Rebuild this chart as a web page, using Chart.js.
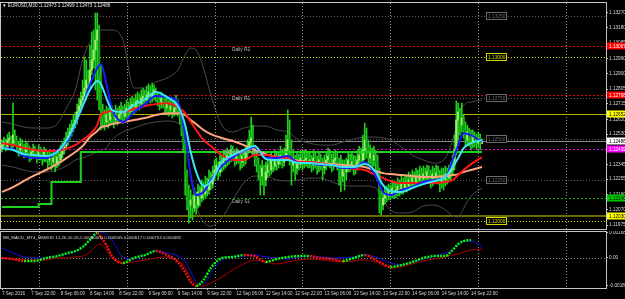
<!DOCTYPE html>
<html>
<head>
<meta charset="utf-8">
<script src="https://cdn.jsdelivr.net/npm/chart.js@4.4.1/dist/chart.umd.min.js"></script>
<style>
  html, body { margin: 0; padding: 0; background: #000; }
  #wrap { position: relative; width: 625px; height: 299px; overflow: hidden; background: #000; }
  canvas { position: absolute; left: 0; }
</style>
</head>
<body>
<div id="wrap">
  <canvas id="priceChart" width="625" height="231" style="top:0"></canvas>
  <canvas id="macdChart" width="625" height="68" style="top:231px"></canvas>
</div>
<script>
Chart.defaults.font.family = "'Liberation Sans', Arial, sans-serif";
Chart.defaults.font.size = 4.7;
Chart.defaults.color = '#d8d8d8';
Chart.defaults.animation = false;

// ---- data ----
const symbol = 'EURUSD,M30';
const tickBars = [0, 16, 32, 48, 64, 80, 96, 112, 128, 144, 160, 176, 192, 208, 224, 240, 256];
const tickLabels = ['7 Sep 2016', '7 Sep 22:00', '8 Sep 06:00', '8 Sep 14:00', '8 Sep 22:00', '9 Sep 06:00',
  '9 Sep 14:00', '9 Sep 22:00', '12 Sep 06:00', '12 Sep 14:00', '12 Sep 22:00', '13 Sep 06:00',
  '13 Sep 14:00', '13 Sep 22:00', '14 Sep 06:00', '14 Sep 14:00', '14 Sep 22:00'];
const gridBars = [20, 68, 116, 164, 212, 260, 308];
const priceTicks = [1.13270, 1.13180, 1.13085, 1.12990, 1.12900, 1.12805, 1.12715, 1.12620, 1.12530,
  1.12435, 1.12345, 1.12255, 1.12160, 1.12070, 1.11975];

const firstOpen = 1.12445;
const closes = [
  1.12463,1.12482,1.12451,1.12494,1.12506,1.12475,1.12524,1.12494,1.12457,1.12433,
  1.12469,1.12445,1.12421,1.12451,1.12433,1.12402,1.12421,1.12439,1.12414,1.12396,
  1.12433,1.12408,1.12384,1.12421,1.12396,1.12372,1.12402,1.12360,1.12384,1.12353,
  1.12390,1.12372,1.12408,1.12433,1.12457,1.12494,1.12518,1.12543,1.12567,1.12591,
  1.12616,1.12665,1.12701,1.12738,1.12762,1.12811,1.12860,1.12836,1.12921,1.12982,
  1.13043,1.13104,1.13165,1.12891,1.12677,1.12628,1.12604,1.12646,1.12616,1.12665,
  1.12640,1.12616,1.12658,1.12628,1.12652,1.12677,1.12640,1.12665,1.12689,1.12665,
  1.12701,1.12713,1.12689,1.12726,1.12738,1.12713,1.12750,1.12762,1.12738,1.12768,
  1.12787,1.12756,1.12774,1.12799,1.12762,1.12738,1.12713,1.12750,1.12726,1.12689,
  1.12713,1.12677,1.12701,1.12665,1.12689,1.12713,1.12677,1.12628,1.12555,1.12463,
  1.12280,1.12158,1.12097,1.12128,1.12079,1.12152,1.12097,1.12177,1.12140,1.12201,
  1.12164,1.12213,1.12189,1.12250,1.12225,1.12280,1.12311,1.12341,1.12299,1.12360,
  1.12335,1.12384,1.12360,1.12402,1.12384,1.12433,1.12396,1.12372,1.12408,1.12384,
  1.12360,1.12396,1.12372,1.12421,1.12445,1.12482,1.12506,1.12433,1.12384,1.12347,
  1.12311,1.12274,1.12323,1.12250,1.12299,1.12341,1.12311,1.12372,1.12335,1.12384,
  1.12347,1.12372,1.12402,1.12360,1.12396,1.12433,1.12494,1.12433,1.12341,1.12384,
  1.12323,1.12372,1.12347,1.12384,1.12360,1.12372,1.12384,1.12360,1.12372,1.12341,
  1.12384,1.12360,1.12335,1.12372,1.12353,1.12323,1.12347,1.12372,1.12396,1.12360,
  1.12341,1.12372,1.12384,1.12347,1.12311,1.12274,1.12323,1.12299,1.12341,1.12372,
  1.12335,1.12360,1.12323,1.12341,1.12372,1.12402,1.12372,1.12433,1.12494,1.12445,
  1.12384,1.12421,1.12372,1.12402,1.12360,1.12311,1.12158,1.12097,1.12140,1.12177,
  1.12152,1.12189,1.12164,1.12201,1.12170,1.12189,1.12213,1.12189,1.12225,1.12201,
  1.12238,1.12213,1.12250,1.12225,1.12262,1.12238,1.12274,1.12250,1.12280,1.12256,
  1.12286,1.12262,1.12299,1.12274,1.12250,1.12286,1.12262,1.12292,1.12268,1.12238,
  1.12274,1.12250,1.12286,1.12262,1.12299,1.12311,1.12341,1.12433,1.12616,1.12665,
  1.12585,1.12628,1.12555,1.12494,1.12543,1.12506,1.12482,1.12518,1.12494,1.12475,
  1.12506,1.12473,1.12486];
const highs = [
  1.12494,1.12512,1.12500,1.12530,1.12543,1.12518,1.12719,1.12555,1.12518,1.12482,
  1.12506,1.12494,1.12469,1.12488,1.12475,1.12457,1.12445,1.12469,1.12457,1.12433,
  1.12463,1.12451,1.12433,1.12451,1.12439,1.12421,1.12433,1.12414,1.12421,1.12402,
  1.12433,1.12421,1.12463,1.12482,1.12506,1.12543,1.12567,1.12591,1.12616,1.12646,
  1.12665,1.12713,1.12750,1.12787,1.12860,1.13000,1.12982,1.12921,1.13074,1.13153,
  1.13165,1.13269,1.13269,1.13196,1.12952,1.12713,1.12677,1.12701,1.12689,1.12713,
  1.12701,1.12677,1.12707,1.12689,1.12701,1.12726,1.12701,1.12713,1.12738,1.12726,
  1.12750,1.12762,1.12750,1.12774,1.12787,1.12774,1.12799,1.12811,1.12799,1.12823,
  1.12836,1.12823,1.12842,1.12830,1.12811,1.12787,1.12768,1.12787,1.12774,1.12750,
  1.12762,1.12738,1.12750,1.12726,1.12738,1.12768,1.12738,1.12701,1.12652,1.12585,
  1.12494,1.12311,1.12219,1.12189,1.12158,1.12201,1.12177,1.12225,1.12213,1.12250,
  1.12238,1.12274,1.12262,1.12311,1.12299,1.12335,1.12372,1.12384,1.12360,1.12402,
  1.12396,1.12433,1.12421,1.12445,1.12433,1.12463,1.12457,1.12433,1.12445,1.12433,
  1.12421,1.12433,1.12433,1.12457,1.12494,1.12555,1.12634,1.12585,1.12463,1.12421,
  1.12384,1.12341,1.12372,1.12341,1.12360,1.12384,1.12372,1.12421,1.12396,1.12433,
  1.12421,1.12421,1.12457,1.12433,1.12445,1.12524,1.12677,1.12616,1.12494,1.12433,
  1.12402,1.12421,1.12408,1.12433,1.12421,1.12433,1.12433,1.12421,1.12421,1.12402,
  1.12433,1.12421,1.12396,1.12421,1.12408,1.12384,1.12402,1.12421,1.12445,1.12433,
  1.12408,1.12421,1.12433,1.12421,1.12384,1.12402,1.12372,1.12372,1.12384,1.12421,
  1.12408,1.12421,1.12402,1.12396,1.12433,1.12457,1.12445,1.12524,1.12597,1.12567,
  1.12494,1.12463,1.12445,1.12457,1.12433,1.12402,1.12323,1.12189,1.12177,1.12213,
  1.12213,1.12225,1.12219,1.12250,1.12238,1.12238,1.12262,1.12250,1.12274,1.12262,
  1.12280,1.12274,1.12299,1.12286,1.12311,1.12299,1.12323,1.12311,1.12335,1.12323,
  1.12335,1.12323,1.12341,1.12335,1.12311,1.12335,1.12323,1.12341,1.12335,1.12311,
  1.12323,1.12323,1.12335,1.12323,1.12341,1.12360,1.12402,1.12524,1.12732,1.12719,
  1.12689,1.12719,1.12646,1.12604,1.12585,1.12567,1.12555,1.12555,1.12543,1.12530,
  1.12543,1.12530,1.12499];
const lows = [
  1.12421,1.12439,1.12427,1.12433,1.12469,1.12445,1.12445,1.12463,1.12421,1.12396,
  1.12402,1.12414,1.12384,1.12396,1.12408,1.12360,1.12372,1.12390,1.12384,1.12353,
  1.12372,1.12372,1.12341,1.12360,1.12360,1.12323,1.12341,1.12311,1.12335,1.12299,
  1.12323,1.12335,1.12353,1.12384,1.12408,1.12433,1.12463,1.12494,1.12518,1.12543,
  1.12567,1.12591,1.12640,1.12665,1.12701,1.12738,1.12738,1.12768,1.12811,1.12891,
  1.12933,1.12799,1.12738,1.12677,1.12555,1.12567,1.12555,1.12579,1.12567,1.12585,
  1.12591,1.12567,1.12591,1.12585,1.12604,1.12616,1.12597,1.12616,1.12628,1.12628,
  1.12640,1.12665,1.12652,1.12665,1.12689,1.12677,1.12689,1.12713,1.12701,1.12713,
  1.12738,1.12719,1.12726,1.12738,1.12726,1.12701,1.12677,1.12689,1.12689,1.12652,
  1.12665,1.12640,1.12652,1.12628,1.12640,1.12665,1.12640,1.12591,1.12518,1.12421,
  1.12158,1.12067,1.11987,1.12018,1.12006,1.12055,1.12042,1.12079,1.12091,1.12116,
  1.12128,1.12140,1.12152,1.12164,1.12189,1.12201,1.12250,1.12280,1.12250,1.12274,
  1.12299,1.12311,1.12323,1.12335,1.12347,1.12360,1.12372,1.12335,1.12347,1.12353,
  1.12311,1.12323,1.12335,1.12347,1.12384,1.12421,1.12445,1.12396,1.12335,1.12299,
  1.12250,1.12158,1.12219,1.12158,1.12213,1.12262,1.12274,1.12286,1.12299,1.12311,
  1.12311,1.12323,1.12341,1.12323,1.12335,1.12372,1.12384,1.12341,1.12219,1.12299,
  1.12250,1.12286,1.12311,1.12323,1.12311,1.12323,1.12335,1.12323,1.12323,1.12299,
  1.12311,1.12323,1.12286,1.12299,1.12311,1.12250,1.12286,1.12311,1.12335,1.12323,
  1.12299,1.12311,1.12335,1.12311,1.12219,1.12177,1.12238,1.12189,1.12250,1.12299,
  1.12299,1.12311,1.12280,1.12286,1.12311,1.12341,1.12335,1.12341,1.12372,1.12384,
  1.12341,1.12347,1.12323,1.12335,1.12311,1.12250,1.12048,1.12036,1.12067,1.12103,
  1.12116,1.12128,1.12128,1.12140,1.12140,1.12140,1.12152,1.12152,1.12164,1.12164,
  1.12177,1.12177,1.12189,1.12189,1.12201,1.12201,1.12213,1.12213,1.12225,1.12219,
  1.12231,1.12225,1.12238,1.12238,1.12201,1.12213,1.12225,1.12238,1.12225,1.12177,
  1.12201,1.12189,1.12213,1.12225,1.12238,1.12250,1.12274,1.12311,1.12402,1.12494,
  1.12524,1.12543,1.12506,1.12457,1.12463,1.12457,1.12433,1.12445,1.12451,1.12433,
  1.12445,1.12433,1.12473];

// indicator readings, taken at these bars
const sampleBars = [0,6,12,18,24,30,36,40,44,48,52,54,57,60,66,72,78,84,90,96,100,103,106,110,114,
  120,126,132,138,144,150,156,162,168,174,180,186,192,198,204,208,212,218,224,230,236,242,246,249,252,256,262];
const blueMA = [1.12445,1.12439,1.12396,1.12384,1.12384,1.12421,1.12494,1.12591,1.12701,1.12830,
  1.12933,1.12958,1.12836,1.12689,1.12604,1.12665,1.12713,1.12762,1.12756,1.12726,
  1.12524,1.12280,1.12158,1.12177,1.12250,1.12335,1.12390,1.12427,1.12451,1.12384,
  1.12384,1.12396,1.12353,1.12353,1.12341,1.12341,1.12323,1.12323,1.12360,1.12274,
  1.12177,1.12158,1.12189,1.12207,1.12238,1.12250,1.12268,1.12372,1.12463,1.12536,1.12524,1.12482];
const cyanMA = [1.12445,1.12433,1.12408,1.12402,1.12396,1.12421,1.12506,1.12597,1.12701,1.12799,
  1.12854,1.12836,1.12750,1.12677,1.12665,1.12707,1.12744,1.12787,1.12756,1.12701,
  1.12585,1.12421,1.12299,1.12213,1.12238,1.12360,1.12402,1.12433,1.12457,1.12378,
  1.12372,1.12372,1.12353,1.12353,1.12347,1.12341,1.12329,1.12329,1.12347,1.12299,
  1.12219,1.12183,1.12177,1.12201,1.12225,1.12244,1.12268,1.12329,1.12384,1.12445,1.12475,1.12494];
const redMA = [1.12475,1.12463,1.12445,1.12433,1.12427,1.12427,1.12445,1.12463,1.12494,1.12530,
  1.12585,1.12652,1.12665,1.12671,1.12665,1.12683,1.12701,1.12713,1.12719,1.12695,
  1.12658,1.12604,1.12555,1.12494,1.12457,1.12402,1.12372,1.12372,1.12402,1.12402,
  1.12390,1.12384,1.12360,1.12360,1.12353,1.12341,1.12329,1.12317,1.12311,1.12280,
  1.12262,1.12244,1.12231,1.12231,1.12231,1.12231,1.12238,1.12250,1.12280,1.12311,1.12347,1.12390];
const slowMA = [1.12177,1.12207,1.12244,1.12280,1.12311,1.12347,1.12390,1.12421,1.12457,1.12512,
  1.12549,1.12573,1.12579,1.12591,1.12604,1.12616,1.12628,1.12646,1.12658,1.12658,
  1.12646,1.12616,1.12591,1.12555,1.12530,1.12506,1.12488,1.12463,1.12433,1.12408,
  1.12390,1.12378,1.12366,1.12360,1.12353,1.12347,1.12341,1.12335,1.12329,1.12305,
  1.12292,1.12286,1.12280,1.12274,1.12268,1.12268,1.12274,1.12280,1.12286,1.12299,1.12311,1.12329];
const upperBand = [1.12604,1.12591,1.12573,1.12567,1.12567,1.12591,1.12707,1.12799,1.12982,1.13092,
  1.13147,1.13165,1.13165,1.13165,1.13104,1.12811,1.12811,1.12848,1.12872,1.12921,
  1.13013,1.13055,1.13043,1.12933,1.12768,1.12585,1.12543,1.12567,1.12579,1.12579,
  1.12555,1.12543,1.12494,1.12475,1.12463,1.12463,1.12482,1.12500,1.12512,1.12512,
  1.12506,1.12494,1.12451,1.12402,1.12372,1.12353,1.12384,1.12494,1.12616,1.12707,1.12726,1.12738];
const lowerBand = [1.12341,1.12329,1.12311,1.12299,1.12299,1.12311,1.12341,1.12372,1.12384,1.12402,
  1.12421,1.12433,1.12445,1.12494,1.12543,1.12567,1.12591,1.12604,1.12610,1.12597,
  1.12524,1.12280,1.12097,1.11994,1.11969,1.12018,1.12128,1.12231,1.12274,1.12274,
  1.12250,1.12244,1.12250,1.12262,1.12262,1.12238,1.12219,1.12213,1.12213,1.12201,
  1.12128,1.12067,1.12048,1.12055,1.12091,1.12097,1.12067,1.12030,1.12024,1.12079,1.12152,1.12201];

const stepBars = [0, 20, 27, 43, 262];
const stepLevels = [1.12085, 1.12103, 1.12238, 1.12421, 1.12421];

const roundMinor = [1.1325, 1.1275, 1.125, 1.1225];
const roundMajor = [1.13, 1.12];
const pivotNames = ['Daily R2', 'Daily R1', 'Daily Pivot Point', 'Daily S1'];
const pivotValues = [1.13067, 1.12768, 1.12439, 1.12140];
const zoneLevels = [1.12652, 1.12030];

const macdTicks = [0.00168, 0, -0.00186];
const macdName = 'BB_MACD_MT4_HSMOD 12,26,10,16,1.00000000';
const macdReadout = [0.000505, 0.000617, 0.000753, 0.000482];
const macdMain = [0,-0.00007,-0.00020,-0.00020,0,0.00013,0.00034,0.00047,0.00074,0.00121,
  0.00168,0.00141,0.00087,0.00013,-0.00034,0,0.00020,0.00047,0.00020,-0.00027,
  -0.00094,-0.00161,-0.00188,-0.00148,-0.00067,0,0.00007,0.00020,0.00013,-0.00027,
  -0.00007,0.00007,0.00013,0.00013,0,-0.00007,-0.00020,0,0.00020,-0.00013,
  -0.00040,-0.00060,-0.00047,-0.00027,0,0.00013,0.00013,0.00054,0.00094,0.00114,0.00121,null];
const macdUpper = [0.00067,0.00034,0.00007,0,0,0.00013,0.00027,0.00040,0.00074,0.00121,
  0.00168,0.00175,0.00161,0.00121,0.00007,-0.00007,0.00020,0.00047,0.00034,0.00013,
  -0.00027,-0.00094,-0.00161,-0.00175,-0.00101,-0.00013,0.00007,0.00013,0.00020,0.00007,
  0,-0.00007,0.00007,0.00013,0.00007,0,0,0.00007,0.00020,0.00007,
  -0.00013,-0.00034,-0.00047,-0.00027,-0.00007,0.00013,0.00034,0.00054,0.00087,0.00114,0.00114,0.00074];
const macdLower = [0,-0.00007,-0.00013,-0.00013,-0.00013,0,0,0.00007,0.00013,0.00040,
  0.00087,0.00094,0.00054,0,-0.00034,-0.00027,-0.00013,0,0.00007,-0.00020,
  -0.00067,-0.00134,-0.00175,-0.00188,-0.00168,-0.00128,-0.00081,-0.00040,-0.00013,-0.00027,
  -0.00040,-0.00027,-0.00013,-0.00007,-0.00013,-0.00020,-0.00027,-0.00020,-0.00013,-0.00027,
  -0.00047,-0.00067,-0.00060,-0.00040,-0.00020,-0.00007,0.00007,0.00020,0.00027,0.00040,0.00054,0.00060];

// ---- derived ----
const opens = closes.map((c, i) => i === 0 ? firstOpen : closes[i - 1]);
const last = closes.length - 1;
const bidPrice = closes[last];
const xMin = -0.55, xMax = 329.7;
const pivotTextBar = 130.5, roundTagBar = 264;
const frameColor = '#c4c4c4';

const pts = arr => sampleBars.map((b, i) => ({ x: b, y: arr[i] }));
const bull = '#9eee72', bear = '#0f9e0f', wickColor = '#1fcf1f';
const candleColors = closes.map((c, i) => c >= opens[i] ? bull : bear);

function hLine(ctx, a, py, color, dash, width) {
  ctx.save();
  ctx.strokeStyle = color; ctx.lineWidth = width; ctx.setLineDash(dash);
  const yy = Math.round(py) + (width % 2 ? 0.5 : 0);
  ctx.beginPath(); ctx.moveTo(a.left, yy); ctx.lineTo(a.right, yy); ctx.stroke();
  ctx.restore();
}
function vGrid(ctx, a, xs) {
  ctx.save();
  ctx.strokeStyle = '#9a9a9a'; ctx.lineWidth = 1; ctx.setLineDash([1, 2]);
  gridBars.forEach(b => {
    const px = Math.round(xs.getPixelForValue(b)) + 0.5;
    ctx.beginPath(); ctx.moveTo(px, a.top); ctx.lineTo(px, a.bottom); ctx.stroke();
  });
  ctx.restore();
}
function frame(ctx, a) {
  ctx.save();
  ctx.strokeStyle = frameColor; ctx.lineWidth = 1;
  ctx.strokeRect(a.left - 0.5, a.top - 0.5, a.right - a.left + 1, a.bottom - a.top + 1);
  ctx.restore();
}

const pricePlugin = {
  id: 'priceDecor',
  beforeDatasetsDraw(chart) {
    const { ctx, chartArea: a, scales: { x, y } } = chart;
    vGrid(ctx, a, x);
    roundMinor.forEach(v => hLine(ctx, a, y.getPixelForValue(v), '#5c5c5c', [1, 2], 1));
    roundMajor.forEach(v => hLine(ctx, a, y.getPixelForValue(v), '#d8d800', [1, 2], 1));
    const pivotColors = ['#e00000', '#e00000', '#e000e0', '#00b400'];
    pivotValues.forEach((v, i) => hLine(ctx, a, y.getPixelForValue(v), pivotColors[i], [2, 2], 1));
    hLine(ctx, a, y.getPixelForValue(zoneLevels[0]), '#b4b400', [], 1);
    hLine(ctx, a, y.getPixelForValue(zoneLevels[1]), '#6c6c00', [], 2);
    hLine(ctx, a, y.getPixelForValue(bidPrice), '#8c8c8c', [], 1);
  },
  afterDatasetsDraw(chart) {
    const { ctx, chartArea: a, scales: { x, y } } = chart;
    ctx.save();
    ctx.font = "4.8px 'Liberation Sans', Arial, sans-serif";
    ctx.textBaseline = 'middle';
    // pivot captions
    ctx.fillStyle = '#b8b8b8'; ctx.textAlign = 'center';
    pivotNames.forEach((n, i) => ctx.fillText(n, x.getPixelForValue(pivotTextBar), y.getPixelForValue(pivotValues[i]) + 3.5));
    // round level tags inside the chart
    ctx.textAlign = 'left';
    const bx = Math.round(x.getPixelForValue(roundTagBar)) + 0.5;
    const tagIn = (v, col) => {
      const py = Math.round(y.getPixelForValue(v));
      ctx.fillStyle = '#000'; ctx.fillRect(bx, py - 3.5, 20, 7);
      ctx.strokeStyle = col; ctx.strokeRect(bx, py - 3.5, 20, 7);
      ctx.fillStyle = col; ctx.fillText(v.toFixed(5), bx + 1.5, py + 0.3);
    };
    roundMinor.forEach(v => tagIn(v, '#6a6a6a'));
    roundMajor.forEach(v => tagIn(v, '#d8d800'));
    // title
    ctx.fillStyle = '#e8e8e8';
    ctx.font = "4.6px 'Liberation Sans', Arial, sans-serif";
    const ohlc = [opens[last], highs[last], lows[last], closes[last]].map(v => v.toFixed(5)).join(' ');
    ctx.fillText('\u25BC ' + symbol + '  ' + ohlc, 2, 6);
    ctx.restore();
  },
  afterDraw(chart) {
    const { ctx, chartArea: a, scales: { y } } = chart;
    frame(ctx, a);
    ctx.save();
    ctx.font = "4.7px 'Liberation Sans', Arial, sans-serif";
    ctx.textBaseline = 'middle';
    const tag = (v, bg, fg) => {
      const py = Math.round(y.getPixelForValue(v));
      ctx.fillStyle = bg; ctx.fillRect(a.right + 1, py - 3.5, 625 - a.right, 7);
      ctx.fillStyle = fg; ctx.fillText(v.toFixed(5), a.right + 3, py + 0.3);
    };
    tag(pivotValues[0], '#ff0000', '#ffffff');
    tag(pivotValues[1], '#ff0000', '#ffffff');
    tag(zoneLevels[0], '#ffff00', '#000000');
    tag(bidPrice, '#ffffff', '#000000');
    tag(pivotValues[2], '#ff00ff', '#ffffff');
    tag(pivotValues[3], '#00c800', '#000000');
    tag(zoneLevels[1], '#ffff00', '#000000');
    ctx.restore();
  }
};

const lineDs = (label, arr, color, width, order) => ({
  type: 'line', label, data: pts(arr), borderColor: color, borderWidth: width,
  pointRadius: 0, cubicInterpolationMode: 'monotone', order
});

new Chart(document.getElementById('priceChart'), {
  type: 'bar',
  data: {
    datasets: [
      { type: 'bar', label: 'wick', data: closes.map((c, i) => ({ x: i, y: [lows[i], highs[i]] })),
        backgroundColor: wickColor, barThickness: 1, grouped: false, borderWidth: 0, order: 8 },
      { type: 'bar', label: 'body', data: closes.map((c, i) => ({ x: i, y: [opens[i], c] })),
        backgroundColor: candleColors, barThickness: 1.6, grouped: false, borderWidth: 0, minBarLength: 1, order: 7 },
      lineDs('upper', upperBand, '#4a4a4a', 1, 9),
      lineDs('lower', lowerBand, '#4a4a4a', 1, 9),
      { type: 'line', label: 'trail', data: stepBars.map((b, i) => ({ x: b, y: stepLevels[i] })),
        borderColor: '#1ed21e', borderWidth: 2, pointRadius: 0, stepped: true, order: 6 },
      lineDs('slow', slowMA, '#ffa47c', 2, 5),
      lineDs('mid', redMA, '#ff1818', 2, 4),
      lineDs('fast', blueMA, '#1a1aff', 2, 3),
      lineDs('signal', cyanMA, '#3ee6f2', 2, 2)
    ]
  },
  options: {
    responsive: false,
    devicePixelRatio: 1,
    events: [],
    layout: { padding: { left: 1, top: 3, right: 0, bottom: 2 } },
    plugins: { legend: { display: false }, tooltip: { enabled: false } },
    scales: {
      x: { type: 'linear', min: xMin, max: xMax, offset: false, display: false },
      y: {
        position: 'right', min: 1.11951, max: 1.13330, beginAtZero: false,
        afterBuildTicks: s => { s.ticks = priceTicks.map(v => ({ value: v })); },
        afterFit: s => { s.width = 19; s.paddingTop = 0; s.paddingBottom = 0; },
        grid: { display: true, drawOnChartArea: false, drawTicks: true, tickLength: 2, color: frameColor },
        border: { display: true, color: frameColor },
        ticks: { padding: 1, color: '#d8d8d8', font: { size: 4.7 }, callback: v => v.toFixed(5) }
      }
    }
  },
  plugins: [pricePlugin]
});

const macdPlugin = {
  id: 'macdDecor',
  beforeDatasetsDraw(chart) {
    const { ctx, chartArea: a, scales: { x, y } } = chart;
    vGrid(ctx, a, x);
    hLine(ctx, a, y.getPixelForValue(0), '#8a8a8a', [1, 2], 1);
  },
  afterDraw(chart) {
    const { ctx, chartArea: a } = chart;
    frame(ctx, a);
    ctx.save();
    ctx.font = "4.4px 'Liberation Sans', Arial, sans-serif";
    ctx.textBaseline = 'middle';
    ctx.fillStyle = '#d8d8d8';
    ctx.fillText(macdName + ' ' + macdReadout.map(v => v.toFixed(6)).join(' '), 3, a.top + 6);
    ctx.restore();
  }
};

new Chart(document.getElementById('macdChart'), {
  type: 'line',
  data: {
    datasets: [
      { label: 'macd', data: pts(macdMain), borderWidth: 2.4, borderDash: [2, 1.2], pointRadius: 0,
        cubicInterpolationMode: 'monotone', borderColor: '#00ff00',
        segment: { borderColor: c => c.p1.parsed.y >= c.p0.parsed.y ? '#00ff00' : '#ff1010' }, order: 0 },
      { label: 'upper', data: pts(macdUpper), borderColor: '#1010e0', borderWidth: 1, pointRadius: 0,
        cubicInterpolationMode: 'monotone', order: 1 },
      { label: 'lower', data: pts(macdLower), borderColor: '#b00000', borderWidth: 1, pointRadius: 0,
        cubicInterpolationMode: 'monotone', order: 2 }
    ]
  },
  options: {
    responsive: false,
    devicePixelRatio: 1,
    events: [],
    layout: { padding: { left: 1, top: 1, right: 0, bottom: 0 } },
    plugins: { legend: { display: false }, tooltip: { enabled: false } },
    scales: {
      x: {
        type: 'linear', min: xMin, max: xMax, offset: false,
        afterBuildTicks: s => { s.ticks = tickBars.map(v => ({ value: v })); },
        afterFit: s => { s.height = 11; s.paddingLeft = 0; s.paddingRight = 0; },
        grid: { display: true, drawOnChartArea: false, drawTicks: true, tickLength: 2, color: frameColor },
        border: { display: true, color: frameColor },
        ticks: { autoSkip: false, maxRotation: 0, minRotation: 0, align: 'start', padding: 1,
          color: '#d8d8d8', font: { size: 4.5 }, callback: v => tickLabels[tickBars.indexOf(v)] }
      },
      y: {
        position: 'right', min: -0.002016, max: 0.001747,
        afterBuildTicks: s => { s.ticks = macdTicks.map(v => ({ value: v })); },
        afterFit: s => { s.width = 19; s.paddingTop = 0; s.paddingBottom = 0; },
        grid: { display: true, drawOnChartArea: false, drawTicks: true, tickLength: 2, color: frameColor },
        border: { display: true, color: frameColor },
        ticks: { padding: 1, color: '#d8d8d8', font: { size: 4.7 }, callback: v => v === 0 ? '0.00' : v.toFixed(5) }
      }
    }
  },
  plugins: [macdPlugin]
});
</script>
</body>
</html>
